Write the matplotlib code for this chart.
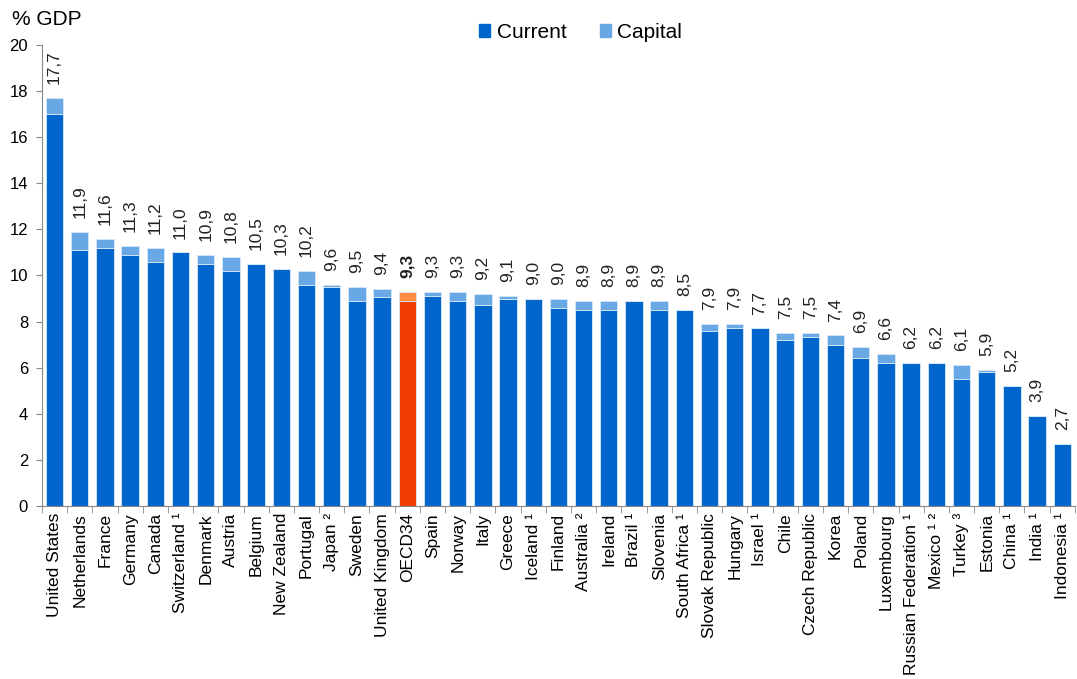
import numpy as np
import matplotlib
matplotlib.use('Agg')
import matplotlib.pyplot as plt
from matplotlib.patches import Patch

plt.rcParams['font.family'] = ['Liberation Sans', 'DejaVu Sans']

countries = ['United States', 'Netherlands', 'France', 'Germany', 'Canada', 'Switzerland ¹',
             'Denmark', 'Austria', 'Belgium', 'New Zealand', 'Portugal', 'Japan ²', 'Sweden',
             'United Kingdom', 'OECD34', 'Spain', 'Norway', 'Italy', 'Greece', 'Iceland ¹',
             'Finland', 'Australia ²', 'Ireland', 'Brazil ¹', 'Slovenia', 'South Africa ¹',
             'Slovak Republic', 'Hungary', 'Israel ¹', 'Chile', 'Czech Republic', 'Korea',
             'Poland', 'Luxembourg', 'Russian Federation ¹', 'Mexico ¹ ²', 'Turkey ³',
             'Estonia', 'China ¹', 'India ¹', 'Indonesia ¹']

# total health spending (labels) and the current part of it
total = [17.7, 11.9, 11.6, 11.3, 11.2, 11.0, 10.9, 10.8, 10.5, 10.3, 10.2, 9.6, 9.5,
         9.4, 9.3, 9.3, 9.3, 9.2, 9.1, 9.0, 9.0, 8.9, 8.9, 8.9, 8.9, 8.5,
         7.9, 7.9, 7.7, 7.5, 7.5, 7.4, 6.9, 6.6, 6.2, 6.2, 6.1, 5.9, 5.2, 3.9, 2.7]
current = [17.0, 11.1, 11.2, 10.9, 10.6, 11.0, 10.5, 10.2, 10.5, 10.3, 9.6, 9.5, 8.9,
           9.05, 8.9, 9.1, 8.9, 8.7, 9.0, 9.0, 8.6, 8.5, 8.5, 8.9, 8.5, 8.5,
           7.6, 7.7, 7.7, 7.2, 7.35, 7.0, 6.4, 6.2, 6.2, 6.2, 5.5, 5.8, 5.2, 3.9, 2.7]

capital = [t - c for t, c in zip(total, current)]
x = np.arange(len(countries))

cur_col = ['#F03C00' if c == 'OECD34' else '#0066CC' for c in countries]
cap_col = ['#FF8C40' if c == 'OECD34' else '#68A8E4' for c in countries]

fig = plt.figure(figsize=(10.77, 6.79), dpi=100)
ax = fig.add_axes([0.039, 0.2548, 0.959, 0.679])

ax.bar(x, current, width=0.69, color=cur_col, edgecolor='#D8E8F8', linewidth=0.6)
ax.bar(x, capital, bottom=current, width=0.69, color=cap_col, edgecolor='#D8E8F8', linewidth=0.6)

for i, t in enumerate(total):
    lbl = f'{t:.1f}'.replace('.', ',')
    bold = countries[i] == 'OECD34'
    ax.annotate(lbl, (x[i], t), xytext=(0, 10), textcoords='offset points',
                rotation=90, ha='center', va='bottom', fontsize=12.5,
                fontweight='bold' if bold else 'normal', color='#222222')

ax.set_xlim(-0.5, len(countries) - 0.5)
ax.set_ylim(0, 20)
ax.set_yticks(range(0, 21, 2))
ax.tick_params(axis='y', labelsize=12, direction='out', length=4, color='#888888', pad=6)

ax.set_xticks(x)
ax.set_xticklabels(countries, rotation=90, fontsize=12.5)
ax.tick_params(axis='x', length=0, pad=5)
ax.set_xticks(np.arange(-0.5, len(countries), 1), minor=True)
ax.tick_params(axis='x', which='minor', length=5, color='#888888', direction='out')

for s in ['top', 'right']:
    ax.spines[s].set_visible(False)
for s in ['left', 'bottom']:
    ax.spines[s].set_color('#888888')

fig.text(0.011, 0.972, '% GDP', fontsize=15, va='center', ha='left')

handles = [Patch(color='#0066CC', label='Current'), Patch(color='#68A8E4', label='Capital')]
fig.legend(handles=handles, loc='center', bbox_to_anchor=(0.539, 0.952), ncol=2,
           frameon=False, fontsize=15, handlelength=0.55, handleheight=0.55,
           handletextpad=0.3, columnspacing=1.6)

fig.savefig('out.png', dpi=100)
